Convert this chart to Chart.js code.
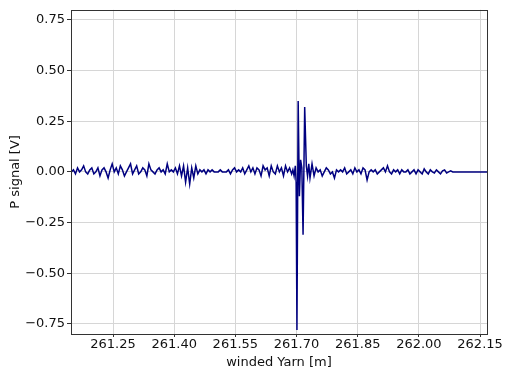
<!DOCTYPE html>
<html><head><meta charset="utf-8">
<script src="https://cdn.jsdelivr.net/npm/chart.js@4.4.1/dist/chart.umd.min.js"></script>
<style>html,body{margin:0;padding:0;background:#fff}canvas{display:block}</style>
</head><body>
<canvas id="c" width="518" height="379"></canvas>
<script>
const xLabelTitle = "winded Yarn [m]";
const yLabelTitle = "P signal [V]";
const xTicks = [261.25, 261.40, 261.55, 261.70, 261.85, 262.00, 262.15];
const yTicks = [-0.75, -0.50, -0.25, 0.00, 0.25, 0.50, 0.75];
const xPos = [
261.148,261.153,261.158,261.163,261.168,261.173,261.178,261.183,261.188,261.193,
261.198,261.203,261.208,261.213,261.218,261.223,261.228,261.233,261.238,261.243,
261.248,261.253,261.258,261.263,261.268,261.273,261.278,261.283,261.288,261.293,
261.298,261.303,261.308,261.313,261.318,261.323,261.328,261.333,261.338,261.343,
261.348,261.353,261.358,261.363,261.368,261.373,261.378,261.383,261.388,261.393,
261.398,261.403,261.408,261.413,261.418,261.423,261.428,261.433,261.438,261.443,
261.448,261.453,261.458,261.463,261.468,261.473,261.478,261.483,261.488,261.493,
261.498,261.503,261.508,261.513,261.518,261.523,261.528,261.533,261.538,261.543,
261.548,261.553,261.558,261.563,261.568,261.573,261.578,261.583,261.588,261.593,
261.598,261.603,261.608,261.613,261.618,261.623,261.628,261.633,261.638,261.643,
261.648,261.653,261.658,261.663,261.668,261.673,261.678,261.683,261.688,
261.691,261.694,261.697,261.699,261.701,261.704,261.707,261.710,261.713,261.716,
261.720,261.724,261.727,261.730,
261.733,261.738,261.743,261.748,261.753,261.758,261.763,261.768,261.773,261.778,
261.783,261.788,261.793,261.798,261.803,261.808,261.813,261.818,261.823,261.828,
261.833,261.838,261.843,261.848,261.853,261.858,261.863,261.868,261.873,261.878,
261.883,261.888,261.893,261.898,261.903,261.908,261.913,261.918,261.923,261.928,
261.933,261.938,261.943,261.948,261.953,261.958,261.963,261.968,261.973,261.978,
261.983,261.988,261.993,261.998,262.003,262.008,262.013,262.018,262.023,262.028,
262.033,262.038,262.043,262.048,262.053,262.058,262.063,262.068,262.073,262.078,
262.083,262.100,262.130,262.168
];
const pSignal = [
0.00,0.01,-0.01,0.02,0.00,0.01,0.03,0.00,-0.01,0.01,
0.02,-0.01,0.00,0.02,-0.02,0.01,0.02,0.00,-0.03,0.01,
0.04,0.00,0.02,-0.01,0.03,0.01,-0.02,0.00,0.02,0.04,
-0.01,0.01,0.03,-0.01,0.00,0.02,0.01,-0.02,0.04,0.01,
0.00,-0.01,0.01,0.02,0.00,0.01,-0.01,0.04,0.00,0.01,
0.00,0.02,-0.01,0.03,-0.02,0.03,-0.05,0.02,-0.06,0.02,
-0.03,0.03,-0.01,0.01,
0.00,0.01,-0.01,0.01,0.00,0.01,0.00,0.00,0.00,0.01,
0.00,0.00,0.00,0.01,-0.01,0.01,0.02,
0.00,0.01,0.00,0.02,-0.01,0.01,0.03,0.00,0.02,-0.01,
0.02,0.01,-0.02,0.03,0.01,0.02,-0.02,0.03,0.00,-0.01,
0.03,0.00,0.02,-0.02,0.03,0.00,0.02,-0.01,
0.01,-0.02,0.03,-0.05,-0.78,0.35,-0.12,0.06,0.02,-0.31,
0.32,0.03,-0.02,0.04,
-0.03,0.04,-0.02,0.02,0.00,0.01,-0.02,0.00,0.02,0.01,
-0.01,0.00,-0.03,0.01,0.00,0.01,0.00,0.02,-0.01,0.00,
0.01,-0.01,0.02,0.00,0.01,-0.01,0.02,0.01,-0.04,0.00,
0.01,0.00,0.01,-0.01,0.00,0.01,0.02,0.00,0.03,0.00,
-0.01,0.01,0.00,0.01,-0.01,0.01,0.00,0.00,0.01,-0.01,
0.00,0.01,-0.01,0.01,0.00,-0.01,0.015,0.00,-0.01,0.01,
0.00,-0.005,0.01,0.00,-0.01,0.005,0.01,-0.005,0.00,0.005,
0.00,0.00,0.00,0.00
];

const points = xPos.map((x, i) => ({x: x, y: pSignal[i]}));
const FONT = "'DejaVu Sans', sans-serif";
const fmt = v => (v < 0 ? "\u2212" : "") + Math.abs(v).toFixed(2);

const frame = {
  id: 'frame',
  afterDatasetsDraw(chart) {
    const a = chart.chartArea, ctx = chart.ctx;
    ctx.save();
    ctx.strokeStyle = '#333';
    ctx.lineWidth = 1;
    ctx.strokeRect(Math.round(a.left) + 0.5, Math.round(a.top) + 0.5,
                   Math.round(a.right - a.left), Math.round(a.bottom - a.top));
    ctx.restore();
  }
};

new Chart(document.getElementById('c'), {
  type: 'line',
  data: { datasets: [{
    data: points,
    borderColor: '#000080',
    borderWidth: 1.5,
    pointRadius: 0,
    tension: 0,
    fill: false
  }]},
  options: {
    responsive: false,
    animation: false,
    layout: { padding: { top: 6, right: 31, left: 0, bottom: 0 } },
    plugins: { legend: { display: false }, tooltip: { enabled: false } },
    scales: {
      x: {
        type: 'linear',
        min: 261.147, max: 262.167,
        afterBuildTicks: s => { s.ticks = xTicks.map(v => ({value: v})); },
        afterFit: s => { s.height = 45; },
        grid: { color: '#d6d6d6', lineWidth: 1, tickLength: 3, tickColor: '#333' },
        border: { display: false },
        ticks: { color: '#111', font: { family: FONT, size: 13 }, padding: 0,
                 maxRotation: 0, autoSkip: false, callback: v => v.toFixed(2) },
        title: { display: true, text: xLabelTitle, color: '#111',
                 font: { family: FONT, size: 13 }, padding: { top: 0, bottom: 9 } }
      },
      y: {
        min: -0.8, max: 0.8,
        afterBuildTicks: s => { s.ticks = yTicks.map(v => ({value: v})); },
        afterFit: s => { s.width = 71; },
        grid: { color: '#d6d6d6', lineWidth: 1, tickLength: 4, tickColor: '#333' },
        border: { display: false },
        ticks: { color: '#111', font: { family: FONT, size: 13 }, padding: 2,
                 autoSkip: false, callback: v => fmt(v) },
        title: { display: true, text: yLabelTitle, color: '#111',
                 font: { family: FONT, size: 13 }, padding: { top: 8, bottom: 4 } }
      }
    }
  },
  plugins: [frame]
});
</script>
</body></html>
